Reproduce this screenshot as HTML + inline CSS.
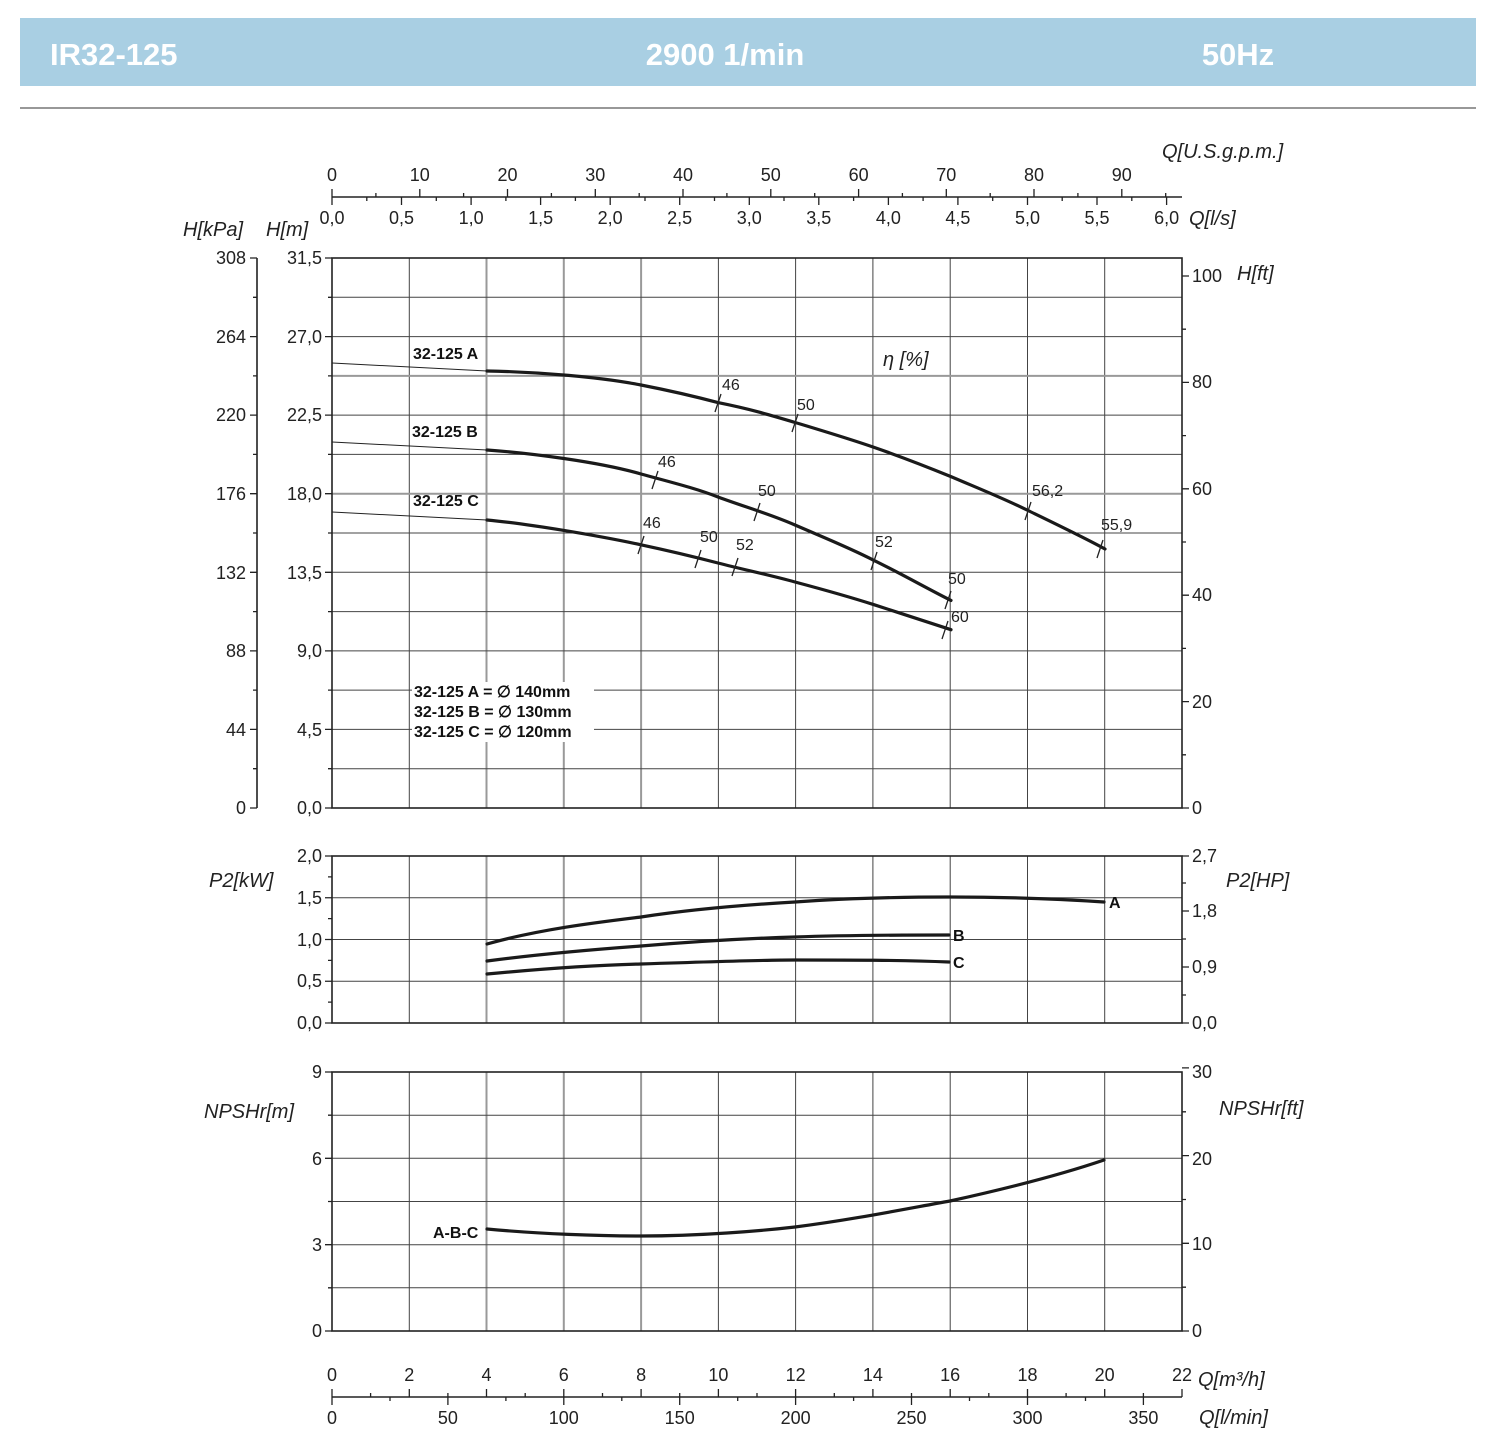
<!DOCTYPE html>
<html><head><meta charset="utf-8"><style>
body{margin:0;background:#fff;}
svg{display:block;font-family:"Liberation Sans",sans-serif;}
</style></head><body>
<svg width="1494" height="1445" viewBox="0 0 1494 1445" xmlns="http://www.w3.org/2000/svg">
<rect x="20" y="18" width="1456" height="68" fill="#a9cfe3"/>
<g fill="#fff" font-weight="bold" font-size="31">
<text x="50" y="65">IR32-125</text>
<text x="725" y="65" text-anchor="middle">2900 1/min</text>
<text x="1238" y="65" text-anchor="middle">50Hz</text>
</g>
<line x1="20" y1="108" x2="1476" y2="108" stroke="#777" stroke-width="1.5"/>

<g stroke="#444" stroke-width="1">
<g id="vg">
<line x1="409.3" y1="258" x2="409.3" y2="808"/><line x1="486.5" y1="258" x2="486.5" y2="808" stroke="#999" stroke-width="2"/><line x1="563.8" y1="258" x2="563.8" y2="808" stroke="#999" stroke-width="2"/><line x1="641.1" y1="258" x2="641.1" y2="808" stroke="#999" stroke-width="2"/><line x1="718.4" y1="258" x2="718.4" y2="808"/><line x1="795.6" y1="258" x2="795.6" y2="808"/><line x1="872.9" y1="258" x2="872.9" y2="808"/><line x1="950.2" y1="258" x2="950.2" y2="808"/><line x1="1027.5" y1="258" x2="1027.5" y2="808"/><line x1="1104.7" y1="258" x2="1104.7" y2="808"/>
</g>
<line x1="332" y1="297.3" x2="1182" y2="297.3"/><line x1="332" y1="336.6" x2="1182" y2="336.6"/><line x1="332" y1="375.9" x2="1182" y2="375.9" stroke="#999" stroke-width="2"/><line x1="332" y1="415.1" x2="1182" y2="415.1"/><line x1="332" y1="454.4" x2="1182" y2="454.4"/><line x1="332" y1="493.7" x2="1182" y2="493.7" stroke="#999" stroke-width="2"/><line x1="332" y1="533" x2="1182" y2="533"/><line x1="332" y1="572.3" x2="1182" y2="572.3"/><line x1="332" y1="611.6" x2="1182" y2="611.6"/><line x1="332" y1="650.9" x2="1182" y2="650.9"/><line x1="332" y1="690.1" x2="1182" y2="690.1"/><line x1="332" y1="729.4" x2="1182" y2="729.4"/><line x1="332" y1="768.7" x2="1182" y2="768.7"/>
<use href="#vg" transform="translate(0,856) scale(1,0.30364) translate(0,-258)"/>
<line x1="332" y1="897.75" x2="1182" y2="897.75"/><line x1="332" y1="939.5" x2="1182" y2="939.5"/><line x1="332" y1="981.25" x2="1182" y2="981.25"/>
<use href="#vg" transform="translate(0,1072) scale(1,0.4709) translate(0,-258)"/>
<line x1="332" y1="1115.2" x2="1182" y2="1115.2"/><line x1="332" y1="1158.3" x2="1182" y2="1158.3"/><line x1="332" y1="1201.5" x2="1182" y2="1201.5"/><line x1="332" y1="1244.7" x2="1182" y2="1244.7"/><line x1="332" y1="1287.8" x2="1182" y2="1287.8"/>
</g>
<g fill="none" stroke="#222" stroke-width="1.6">
<rect x="332" y="258" width="850" height="550"/>
<rect x="332" y="856" width="850" height="167"/>
<rect x="332" y="1072" width="850" height="259"/>
<line x1="332" y1="197" x2="1182" y2="197"/>
<line x1="257" y1="258" x2="257" y2="808"/>
<line x1="332" y1="1397" x2="1182" y2="1397"/>
</g>
<g stroke="#222" stroke-width="1.3">
<path d="M332 197v-8M419.8 197v-8M507.5 197v-8M595.3 197v-8M683 197v-8M770.8 197v-8M858.6 197v-8M946.3 197v-8M1034 197v-8M1121.8 197v-8M375.9 197v-4M463.6 197v-4M551.4 197v-4M639.2 197v-4M726.9 197v-4M814.7 197v-4M902.4 197v-4M990.2 197v-4M1077.9 197v-4M1165.7 197v-4"/>
<path d="M332 197v8M401.5 197v8M471.1 197v8M540.6 197v8M610.2 197v8M679.7 197v8M749.3 197v8M818.8 197v8M888.4 197v8M957.9 197v8M1027.5 197v8M1097 197v8M1166.6 197v8M366.8 197v4M436.3 197v4M505.9 197v4M575.4 197v4M645 197v4M714.5 197v4M784 197v4M853.6 197v4M923.1 197v4M992.7 197v4M1062.2 197v4M1131.8 197v4"/>
<path d="M257 258h-7M257 336.6h-7M257 415.1h-7M257 493.7h-7M257 572.3h-7M257 650.9h-7M257 729.4h-7M257 808h-7M257 297.3h-4M257 375.9h-4M257 454.4h-4M257 533h-4M257 611.6h-4M257 690.1h-4M257 768.7h-4"/>
<path d="M332 258h-7M332 336.6h-7M332 415.1h-7M332 493.7h-7M332 572.3h-7M332 650.9h-7M332 729.4h-7M332 808h-7M332 297.3h-4M332 375.9h-4M332 454.4h-4M332 533h-4M332 611.6h-4M332 690.1h-4M332 768.7h-4"/>
<path d="M1182 276h7M1182 382.4h7M1182 488.8h7M1182 595.2h7M1182 701.6h7M1182 808h7M1182 329.2h4M1182 435.6h4M1182 542h4M1182 648.4h4M1182 754.8h4"/>
<path d="M332 856h-7M332 897.75h-7M332 939.5h-7M332 981.25h-7M332 1023h-7M332 876.9h-4M332 918.6h-4M332 960.4h-4M332 1002.1h-4"/>
<path d="M1182 856h7M1182 911h7M1182 967h7M1182 1023h7M1182 883h4M1182 939h4M1182 995h4"/>
<path d="M332 1072h-7M332 1158.3h-7M332 1244.7h-7M332 1331h-7M332 1115.2h-4M332 1201.5h-4M332 1287.8h-4"/>
<path d="M1182 1067.9h7M1182 1155.6h7M1182 1243.3h7M1182 1331h7M1182 1111.8h4M1182 1199.5h4M1182 1287.2h4"/>
<path d="M332 1397v-8M409.3 1397v-8M486.5 1397v-8M563.8 1397v-8M641.1 1397v-8M718.4 1397v-8M795.6 1397v-8M872.9 1397v-8M950.2 1397v-8M1027.5 1397v-8M1104.7 1397v-8M1182 1397v-8M370.6 1397v-4M447.9 1397v-4M525.2 1397v-4M602.5 1397v-4M679.7 1397v-4M757 1397v-4M834.3 1397v-4M911.5 1397v-4M988.8 1397v-4M1066.1 1397v-4M1143.4 1397v-4"/>
<path d="M332 1397v8M447.9 1397v8M563.8 1397v8M679.7 1397v8M795.6 1397v8M911.5 1397v8M1027.5 1397v8M1143.4 1397v8M390 1397v4M505.9 1397v4M621.8 1397v4M737.7 1397v4M853.6 1397v4M969.5 1397v4M1085.5 1397v4"/>
</g>

<g font-size="18" fill="#222">
<g text-anchor="middle">
<text x="332" y="181">0</text><text x="419.8" y="181">10</text><text x="507.5" y="181">20</text><text x="595.3" y="181">30</text><text x="683" y="181">40</text><text x="770.8" y="181">50</text><text x="858.6" y="181">60</text><text x="946.3" y="181">70</text><text x="1034" y="181">80</text><text x="1121.8" y="181">90</text>
<text x="332" y="224">0,0</text><text x="401.5" y="224">0,5</text><text x="471.1" y="224">1,0</text><text x="540.6" y="224">1,5</text><text x="610.2" y="224">2,0</text><text x="679.7" y="224">2,5</text><text x="749.3" y="224">3,0</text><text x="818.8" y="224">3,5</text><text x="888.4" y="224">4,0</text><text x="957.9" y="224">4,5</text><text x="1027.5" y="224">5,0</text><text x="1097" y="224">5,5</text><text x="1166.6" y="224">6,0</text>
<text x="332" y="1381">0</text><text x="409.3" y="1381">2</text><text x="486.5" y="1381">4</text><text x="563.8" y="1381">6</text><text x="641.1" y="1381">8</text><text x="718.4" y="1381">10</text><text x="795.6" y="1381">12</text><text x="872.9" y="1381">14</text><text x="950.2" y="1381">16</text><text x="1027.5" y="1381">18</text><text x="1104.7" y="1381">20</text><text x="1182" y="1381">22</text>
<text x="332" y="1424">0</text><text x="447.9" y="1424">50</text><text x="563.8" y="1424">100</text><text x="679.7" y="1424">150</text><text x="795.6" y="1424">200</text><text x="911.5" y="1424">250</text><text x="1027.5" y="1424">300</text><text x="1143.4" y="1424">350</text>
</g>
<g text-anchor="end">
<text x="246" y="264">308</text><text x="246" y="343">264</text><text x="246" y="421">220</text><text x="246" y="500">176</text><text x="246" y="579">132</text><text x="246" y="657">88</text><text x="246" y="736">44</text><text x="246" y="814">0</text>
<text x="322" y="264">31,5</text><text x="322" y="343">27,0</text><text x="322" y="421">22,5</text><text x="322" y="500">18,0</text><text x="322" y="579">13,5</text><text x="322" y="657">9,0</text><text x="322" y="736">4,5</text><text x="322" y="814">0,0</text>
<text x="322" y="862">2,0</text><text x="322" y="904">1,5</text><text x="322" y="946">1,0</text><text x="322" y="987">0,5</text><text x="322" y="1029">0,0</text>
<text x="322" y="1078">9</text><text x="322" y="1165">6</text><text x="322" y="1251">3</text><text x="322" y="1337">0</text>
</g>
<text x="1192" y="282">100</text><text x="1192" y="388">80</text><text x="1192" y="495">60</text><text x="1192" y="601">40</text><text x="1192" y="708">20</text><text x="1192" y="814">0</text>
<text x="1192" y="862">2,7</text><text x="1192" y="917">1,8</text><text x="1192" y="973">0,9</text><text x="1192" y="1029">0,0</text>
<text x="1192" y="1078">30</text><text x="1192" y="1165">20</text><text x="1192" y="1250">10</text><text x="1192" y="1337">0</text>
</g>
<g font-size="20" font-style="italic" fill="#222">
<text x="1162" y="158">Q[U.S.g.p.m.]</text>
<text x="1189" y="225">Q[l/s]</text>
<text x="183" y="236">H[kPa]</text>
<text x="266" y="236">H[m]</text>
<text x="1237" y="280">H[ft]</text>
<text x="209" y="887">P2[kW]</text>
<text x="1226" y="887">P2[HP]</text>
<text x="204" y="1118">NPSHr[m]</text>
<text x="1219" y="1115">NPSHr[ft]</text>
<text x="1198" y="1386">Q[m³/h]</text>
<text x="1199" y="1424">Q[l/min]</text>
<text x="883" y="366">η [%]</text>
</g>

<g stroke="#222" stroke-width="1" fill="none">
<line x1="332" y1="363" x2="487" y2="371"/>
<line x1="332" y1="442" x2="487" y2="450"/>
<line x1="332" y1="512" x2="487" y2="520"/>
</g>
<g stroke="#1a1a1a" stroke-width="3.2" fill="none" stroke-linejoin="round" stroke-linecap="round">
<path d="M487,371 C540,372 600,377 641,385 S718,402.6 718,402.6 C750,409 770,415 795.6,422.6 C830,433 850,439 873,447 C905,458 925,466 951,476.6 C980,489 1005,499 1028,510.5 C1060,526 1085,538 1105,549"/>
<path d="M487,450 C530,453 600,462 641,474 C670,482 695,488 718,497 C745,507 770,514 795,525 C825,538 850,548 874,560.4 C900,573 930,590 951,600.4"/>
<path d="M487,520 C530,524 600,536 641,544.8 C670,551 695,557 718,563 C745,570 770,575 795,582 C825,590 850,597 874,604.7 C900,613 930,623 951,629.7"/>
<path d="M487,944 C540,929 600,922 641,917 C700,908 760,904 795,902 C850,898 900,897 950,897 C1000,897 1060,899 1104,902"/>
<path d="M487,961 C540,954 600,949 641,946 C700,941 760,938 795,937 C850,935 900,935 949,935"/>
<path d="M487,974 C540,969 600,965 641,964 C700,962 760,960 795,960 C850,960 900,960 949,962"/>
<path d="M487,1229 C540,1234 600,1236 641,1236 C700,1236 760,1231 795,1227 C850,1220 900,1210 950,1201 C1000,1190 1060,1175 1104,1160"/>
</g>
<g stroke="#222" stroke-width="1.3">
<path d="M715 412l6-18M792 432l6-18M1025 520l6-18M1097 558l6-18"/>
<path d="M652 489l6-18M754 521l6-18M871 570l6-18M945 609l6-18"/>
<path d="M638 554l6-18M695 568l6-18M732 576l6-18M942 639l6-18"/>
</g>
<g font-size="16" fill="#222">
<text x="722" y="390">46</text><text x="797" y="410">50</text><text x="1032" y="496">56,2</text><text x="1101" y="530">55,9</text>
<text x="658" y="467">46</text><text x="758" y="496">50</text><text x="875" y="547">52</text><text x="948" y="584">50</text>
<text x="643" y="528">46</text><text x="700" y="542">50</text><text x="736" y="550">52</text><text x="951" y="622">60</text>
</g>
<g font-size="16" font-weight="bold" fill="#111">
<text x="413" y="359">32-125 A</text>
<text x="412" y="437">32-125 B</text>
<text x="413" y="506">32-125 C</text>
<text x="1109" y="908">A</text>
<text x="953" y="941">B</text>
<text x="953" y="968">C</text>
<text x="433" y="1238">A-B-C</text>
<rect x="412" y="682" width="182" height="60" fill="#fff"/>
<text x="414" y="697">32-125 A = ∅ 140mm</text>
<text x="414" y="717">32-125 B = ∅ 130mm</text>
<text x="414" y="737">32-125 C = ∅ 120mm</text>
</g>
</svg>
</body></html>
